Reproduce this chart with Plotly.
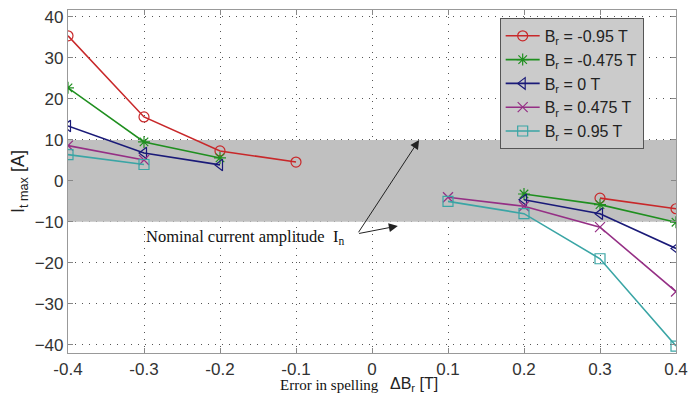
import plotly.graph_objects as go

x_left = [-0.4, -0.3, -0.2, -0.1]
x_right = [0.1, 0.2, 0.3, 0.4]

names = ["B<sub>r</sub> = -0.95 T", "B<sub>r</sub> = -0.475 T", "B<sub>r</sub> = 0 T",
         "B<sub>r</sub> = 0.475 T", "B<sub>r</sub> = 0.95 T"]

# values (None where no point)
y_m095 = [35.4, 15.6, 7.3, 4.6, None, None, -4.2, -6.8]
y_m0475 = [22.7, 9.5, 5.6, None, None, -3.2, -5.8, -10.1]
y_0 = [13.4, 6.8, 3.9, None, None, -4.6, -8.0, -16.5]
y_p0475 = [8.6, 5.1, None, None, -4.0, -6.2, -11.3, -27.0]
y_p095 = [6.4, 4.0, None, None, -5.0, -8.0, -19.0, -40.3]

x_all = x_left + x_right
series = [y_m095, y_m0475, y_0, y_p0475, y_p095]
colors = ["#c8282a", "#1f8f1f", "#1a1a78", "#952f85", "#3aa5a5"]
symbols = ["circle-open", "asterisk-open", "triangle-left-open", "x-thin-open", "square-open"]

y_ticks = [-40, -30, -20, -10, 0, 10, 20, 30, 40]
x_ticks = [-0.4, -0.3, -0.2, -0.1, 0, 0.1, 0.2, 0.3, 0.4]
x_tick_text = ["-0.4", "-0.3", "-0.2", "-0.1", "0", "0.1", "0.2", "0.3", "0.4"]

band_x = [-0.4, 0.4, 0.4, -0.4]
band_y = [-10, -10, 10, 10]

fig = go.Figure()
fig.add_trace(go.Scatter(x=band_x, y=band_y, fill="toself", mode="none",
                         fillcolor="#c0c0c0", showlegend=False, hoverinfo="skip"))
for name, ys, c, s in zip(names, series, colors, symbols):
    fig.add_trace(go.Scatter(
        x=x_all, y=ys, name=name, mode="lines+markers",
        connectgaps=False,
        line=dict(color=c, width=1.6),
        marker=dict(symbol=s, size=10, color=c, line=dict(color=c, width=1.2)),
    ))

# arrows
fig.add_annotation(x=0.062, y=10, ax=-0.019, ay=-12.9, xref="x", yref="y",
                   axref="x", ayref="y", text="", showarrow=True,
                   arrowhead=2, arrowsize=1.8, arrowwidth=1, arrowcolor="#222")
fig.add_annotation(x=0.034, y=-11.0, ax=-0.019, ay=-12.9, xref="x", yref="y",
                   axref="x", ayref="y", text="", showarrow=True,
                   arrowhead=2, arrowsize=1.8, arrowwidth=1, arrowcolor="#222")
fig.add_annotation(x=-0.034, y=-13.7, xref="x", yref="y", xanchor="right",
                   text="Nominal current amplitude  I<sub>n</sub>", showarrow=False,
                   font=dict(family="Liberation Serif", size=16.5, color="#111"))

# x title
fig.add_annotation(x=0.515, y=-0.094, xref="paper", yref="paper", xanchor="right",
                   yanchor="middle", text="Error in spelling", showarrow=False,
                   font=dict(family="Liberation Serif", size=15, color="#111"))
fig.add_annotation(x=0.527, y=-0.092, xref="paper", yref="paper", xanchor="left",
                   yanchor="middle", text="ΔB<sub>r</sub> [T]", showarrow=False,
                   font=dict(family="Liberation Sans", size=16, color="#222"))

axis_common = dict(
    showgrid=True, gridcolor="#555", griddash="1px,6px", gridwidth=1,
    showline=True, linecolor="#999", linewidth=1.2, mirror="allticks",
    ticks="inside", ticklen=5, tickcolor="#888", zeroline=False,
    tickfont=dict(family="Liberation Sans", size=17, color="#333"),
    ticklabeloverflow="allow",
    layer="above traces",
)

fig.update_xaxes(range=[-0.4, 0.4], tickvals=x_ticks, ticktext=x_tick_text,
                 ticklabelstandoff=0, **axis_common)
fig.update_yaxes(range=[-42, 41.7], tickvals=y_ticks,
                 title=dict(text="I<sub>t max</sub> [A]", standoff=8,
                            font=dict(family="Liberation Sans", size=18, color="#222")),
                 **axis_common)

fig.update_layout(
    width=700, height=394,
    margin=dict(l=60, r=32, t=2, b=49, autoexpand=False),
    paper_bgcolor="white", plot_bgcolor="white",
    showlegend=True,
    legend=dict(x=0.71, y=0.977, xanchor="left", yanchor="top",
                bgcolor="#cbcbcb", bordercolor="#555", borderwidth=1,
                font=dict(family="Liberation Sans", size=16, color="#222"),
                tracegroupgap=0, itemwidth=34),
)

fig.write_html("out.html")
